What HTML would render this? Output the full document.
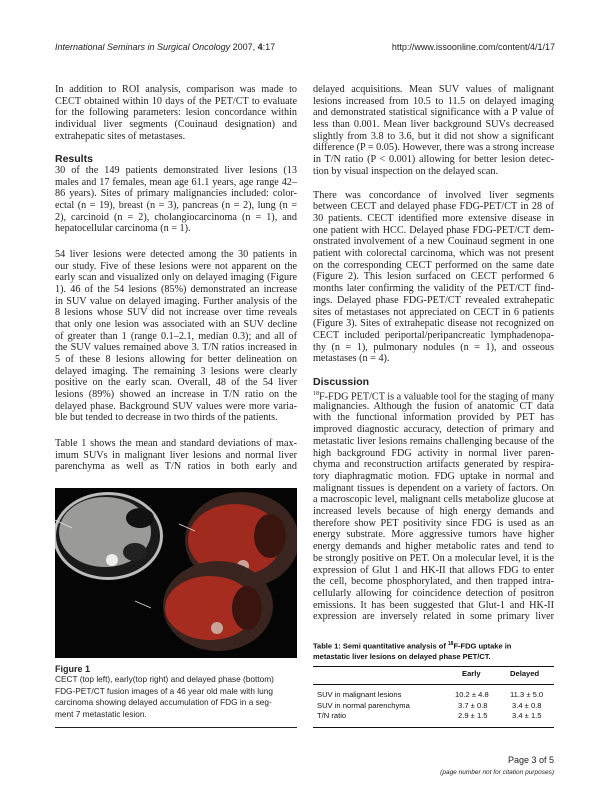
<!DOCTYPE html>
<html><head><meta charset="utf-8"><style>
body{margin:0;width:612px;height:792px;background:#fff;position:relative;overflow:hidden;font-family:"Liberation Serif",serif;color:#222}
.l{position:absolute;font-size:10.2px;line-height:11.7px;white-space:nowrap;text-align:justify;text-align-last:justify}
.e{text-align-last:left}
.L{left:55px;width:242px}.R{left:313px;width:241px}
.h{position:absolute;font-family:"Liberation Sans",sans-serif;font-weight:bold;font-size:10.5px}
.s{font-family:"Liberation Sans",sans-serif}
.t{position:absolute;font-family:"Liberation Sans",sans-serif;font-size:7.6px;color:#111}
.c{position:absolute;left:55px;font-family:"Liberation Sans",sans-serif;font-size:8.3px;white-space:nowrap;color:#222}
</style></head><body>
<div class="s" style="position:absolute;left:55px;top:42px;font-size:9px"><i>International Seminars in Surgical Oncology</i> 2007, <b>4</b>:17</div>
<div class="s" style="position:absolute;right:57px;top:42px;font-size:9px">http://www.issoonline.com/content/4/1/17</div>

<div>
<div class="l L" style="top:84px">In addition to ROI analysis, comparison was made to</div>
<div class="l L" style="top:95.7px">CECT obtained within 10 days of the PET/CT to evaluate</div>
<div class="l L" style="top:107.4px">for the following parameters: lesion concordance within</div>
<div class="l L" style="top:119px">individual liver segments (Couinaud designation) and</div>
<div class="l L e" style="top:130.7px">extrahepatic sites of metastases.</div>
<div class="h" style="left:55px;top:153px">Results</div>
<div class="l L" style="top:165px">30 of the 149 patients demonstrated liver lesions (13</div>
<div class="l L" style="top:176.7px">males and 17 females, mean age 61.1 years, age range 42–</div>
<div class="l L" style="top:188.4px">86 years). Sites of primary malignancies included: color-</div>
<div class="l L" style="top:200px">ectal (n = 19), breast (n = 3), pancreas (n = 2), lung (n =</div>
<div class="l L" style="top:211.7px">2), carcinoid (n = 2), cholangiocarcinoma (n = 1), and</div>
<div class="l L e" style="top:223.4px">hepatocellular carcinoma (n = 1).</div>
<div class="l L" style="top:249px">54 liver lesions were detected among the 30 patients in</div>
<div class="l L" style="top:260.7px">our study. Five of these lesions were not apparent on the</div>
<div class="l L" style="top:272.4px">early scan and visualized only on delayed imaging (Figure</div>
<div class="l L" style="top:284px">1). 46 of the 54 lesions (85%) demonstrated an increase</div>
<div class="l L" style="top:295.7px">in SUV value on delayed imaging. Further analysis of the</div>
<div class="l L" style="top:307.4px">8 lesions whose SUV did not increase over time reveals</div>
<div class="l L" style="top:319px">that only one lesion was associated with an SUV decline</div>
<div class="l L" style="top:330.7px">of greater than 1 (range 0.1–2.1, median 0.3); and all of</div>
<div class="l L" style="top:342.4px">the SUV values remained above 3. T/N ratios increased in</div>
<div class="l L" style="top:354px">5 of these 8 lesions allowing for better delineation on</div>
<div class="l L" style="top:365.7px">delayed imaging. The remaining 3 lesions were clearly</div>
<div class="l L" style="top:377.4px">positive on the early scan. Overall, 48 of the 54 liver</div>
<div class="l L" style="top:389px">lesions (89%) showed an increase in T/N ratio on the</div>
<div class="l L" style="top:400.7px">delayed phase. Background SUV values were more varia-</div>
<div class="l L e" style="top:412.4px">ble but tended to decrease in two thirds of the patients.</div>
<div class="l L" style="top:438px">Table 1 shows the mean and standard deviations of max-</div>
<div class="l L" style="top:449.7px">imum SUVs in malignant liver lesions and normal liver</div>
<div class="l L" style="top:461.4px">parenchyma as well as T/N ratios in both early and</div>
</div>

<svg style="position:absolute;left:55px;top:488px" width="242" height="170">
<rect width="242" height="170" fill="#050505"/>
<ellipse cx="53" cy="48" rx="55" ry="44" fill="#bbb"/>
<ellipse cx="53" cy="48" rx="52" ry="41" fill="#1a1a1a"/>
<ellipse cx="50" cy="44" rx="46" ry="35" fill="#9a9a98"/>
<ellipse cx="85" cy="30" rx="14" ry="10" fill="#111"/>
<ellipse cx="80" cy="64" rx="12" ry="9" fill="#222"/>
<circle cx="57" cy="72" r="6" fill="#eee"/>
<ellipse cx="187" cy="52" rx="57" ry="48" fill="#3a2420"/>
<ellipse cx="180" cy="52" rx="47" ry="36" fill="#a02a1e"/>
<ellipse cx="215" cy="48" rx="16" ry="22" fill="#3a1510"/>
<circle cx="188" cy="78" r="6" fill="#c9a49a"/>
<ellipse cx="163" cy="118" rx="55" ry="45" fill="#3a2420"/>
<ellipse cx="155" cy="120" rx="45" ry="32" fill="#a52c1f"/>
<ellipse cx="192" cy="120" rx="15" ry="22" fill="#3a1510"/>
<circle cx="162" cy="140" r="6" fill="#c9a49a"/>
<line x1="0" y1="32" x2="17" y2="40" stroke="#ddd" stroke-width="0.8"/>
<line x1="124" y1="36" x2="140" y2="43" stroke="#ddd" stroke-width="0.8"/>
<line x1="80" y1="113" x2="96" y2="120" stroke="#ddd" stroke-width="0.8"/>
</svg>
<div class="h" style="left:55px;top:664px;font-size:9px">Figure 1</div>
<div>
<div class="c" style="top:674px">CECT (top left), early(top right) and delayed phase (bottom)</div>
<div class="c" style="top:685.5px">FDG-PET/CT fusion images of a 46 year old male with lung</div>
<div class="c" style="top:697px">carcinoma showing delayed accumulation of FDG in a seg-</div>
<div class="c" style="top:708.5px">ment 7 metastatic lesion.</div>
</div>
<div style="position:absolute;left:55px;top:727px;width:242px;height:1px;background:#222"></div>

<div>
<div class="l R" style="top:84px">delayed acquisitions. Mean SUV values of malignant</div>
<div class="l R" style="top:95.7px">lesions increased from 10.5 to 11.5 on delayed imaging</div>
<div class="l R" style="top:107.4px">and demonstrated statistical significance with a P value of</div>
<div class="l R" style="top:119px">less than 0.001. Mean liver background SUVs decreased</div>
<div class="l R" style="top:130.7px">slightly from 3.8 to 3.6, but it did not show a significant</div>
<div class="l R" style="top:142.4px">difference (P = 0.05). However, there was a strong increase</div>
<div class="l R" style="top:154px">in T/N ratio (P &lt; 0.001) allowing for better lesion detec-</div>
<div class="l R e" style="top:165.7px">tion by visual inspection on the delayed scan.</div>
<div class="l R" style="top:189.5px">There was concordance of involved liver segments</div>
<div class="l R" style="top:201.2px">between CECT and delayed phase FDG-PET/CT in 28 of</div>
<div class="l R" style="top:212.9px">30 patients. CECT identified more extensive disease in</div>
<div class="l R" style="top:224.6px">one patient with HCC. Delayed phase FDG-PET/CT dem-</div>
<div class="l R" style="top:236.3px">onstrated involvement of a new Couinaud segment in one</div>
<div class="l R" style="top:248px">patient with colorectal carcinoma, which was not present</div>
<div class="l R" style="top:259.7px">on the corresponding CECT performed on the same date</div>
<div class="l R" style="top:271.4px">(Figure 2). This lesion surfaced on CECT performed 6</div>
<div class="l R" style="top:283.1px">months later confirming the validity of the PET/CT find-</div>
<div class="l R" style="top:294.8px">ings. Delayed phase FDG-PET/CT revealed extrahepatic</div>
<div class="l R" style="top:306.5px">sites of metastases not appreciated on CECT in 6 patients</div>
<div class="l R" style="top:318.2px">(Figure 3). Sites of extrahepatic disease not recognized on</div>
<div class="l R" style="top:329.9px">CECT included periportal/peripancreatic lymphadenopa-</div>
<div class="l R" style="top:341.6px">thy (n = 1), pulmonary nodules (n = 1), and osseous</div>
<div class="l R e" style="top:353.3px">metastases (n = 4).</div>
<div class="h" style="left:313px;top:376px">Discussion</div>
<div class="l R" style="top:389px"><sup style="font-size:6px">18</sup>F-FDG PET/CT is a valuable tool for the staging of many</div>
<div class="l R" style="top:400.7px">malignancies. Although the fusion of anatomic CT data</div>
<div class="l R" style="top:412.4px">with the functional information provided by PET has</div>
<div class="l R" style="top:424.1px">improved diagnostic accuracy, detection of primary and</div>
<div class="l R" style="top:435.8px">metastatic liver lesions remains challenging because of the</div>
<div class="l R" style="top:447.5px">high background FDG activity in normal liver paren-</div>
<div class="l R" style="top:459.2px">chyma and reconstruction artifacts generated by respira-</div>
<div class="l R" style="top:470.9px">tory diaphragmatic motion. FDG uptake in normal and</div>
<div class="l R" style="top:482.6px">malignant tissues is dependent on a variety of factors. On</div>
<div class="l R" style="top:494.3px">a macroscopic level, malignant cells metabolize glucose at</div>
<div class="l R" style="top:506px">increased levels because of high energy demands and</div>
<div class="l R" style="top:517.7px">therefore show PET positivity since FDG is used as an</div>
<div class="l R" style="top:529.4px">energy substrate. More aggressive tumors have higher</div>
<div class="l R" style="top:541.1px">energy demands and higher metabolic rates and tend to</div>
<div class="l R" style="top:552.8px">be strongly positive on PET. On a molecular level, it is the</div>
<div class="l R" style="top:564.5px">expression of Glut 1 and HK-II that allows FDG to enter</div>
<div class="l R" style="top:576.2px">the cell, become phosphorylated, and then trapped intra-</div>
<div class="l R" style="top:587.9px">cellularly allowing for coincidence detection of positron</div>
<div class="l R" style="top:599.6px">emissions. It has been suggested that Glut-1 and HK-II</div>
<div class="l R" style="top:611.3px">expression are inversely related in some primary liver</div>
</div>

<div>
<div class="t" style="left:313px;top:639px;font-weight:bold;font-size:7.5px;line-height:10px">Table 1: Semi quantitative analysis of <sup style="font-size:5px">18</sup>F-FDG uptake in<br>metastatic liver lesions on delayed phase PET/CT.</div>
<div style="position:absolute;left:313px;top:666px;width:241px;height:1px;background:#111"></div>
<div class="t" style="left:462px;top:669px;font-weight:bold">Early</div>
<div class="t" style="left:510px;top:669px;font-weight:bold">Delayed</div>
<div style="position:absolute;left:313px;top:684px;width:241px;height:1px;background:#111"></div>
<div class="t" style="left:317px;top:690px">SUV in malignant lesions</div>
<div class="t" style="left:455px;top:690px">10.2 ± 4.8</div>
<div class="t" style="left:510px;top:690px">11.3 ± 5.0</div>
<div class="t" style="left:317px;top:700.5px">SUV in normal parenchyma</div>
<div class="t" style="left:458px;top:700.5px">3.7 ± 0.8</div>
<div class="t" style="left:512px;top:700.5px">3.4 ± 0.8</div>
<div class="t" style="left:317px;top:711px">T/N ratio</div>
<div class="t" style="left:458px;top:711px">2.9 ± 1.5</div>
<div class="t" style="left:512px;top:711px">3.4 ± 1.5</div>
<div style="position:absolute;left:313px;top:727px;width:241px;height:1px;background:#111"></div>
</div>

<div class="s" style="position:absolute;right:58px;top:755px;font-size:9px">Page 3 of 5</div>
<div class="s" style="position:absolute;right:58px;top:769px;font-size:6.5px;font-style:italic">(page number not for citation purposes)</div>
</body></html>
